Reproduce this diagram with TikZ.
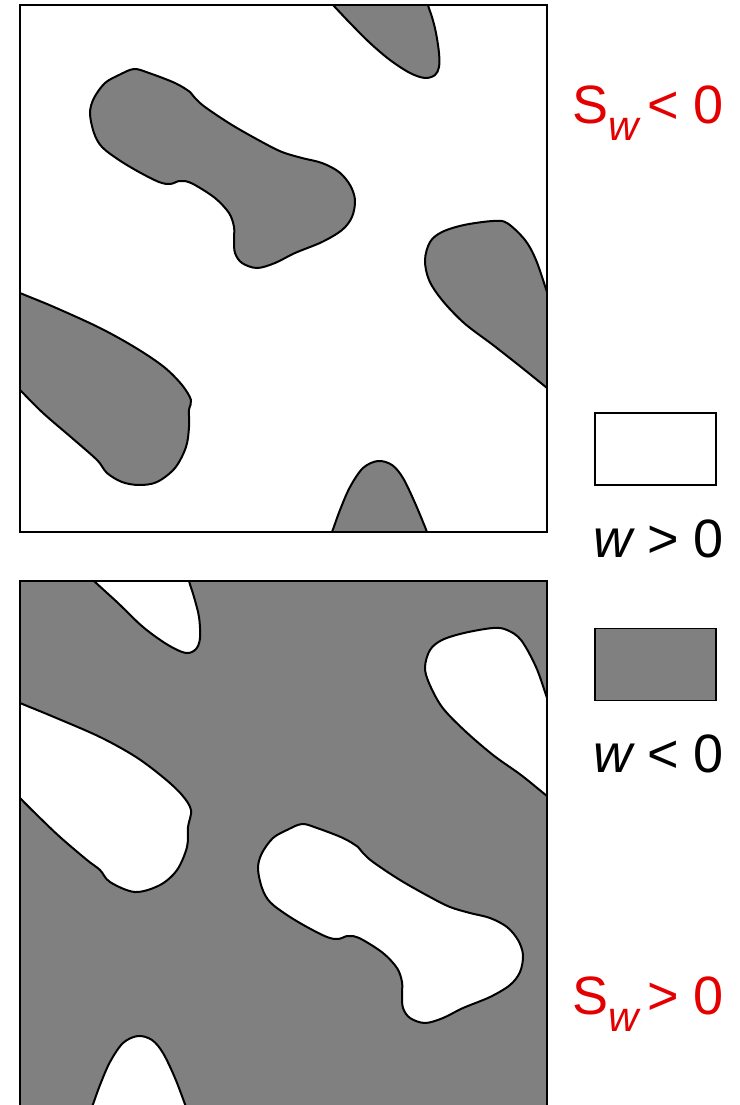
\documentclass[tikz,border=0pt]{standalone}
\usepackage{fontspec}
\setmainfont{Liberation Sans}
\usetikzlibrary{positioning}
\definecolor{signred}{RGB}{228,0,0}

\begin{document}
\begin{tikzpicture}[x=1pt,y=-1pt,
  blob/.style={line width=2pt},
  frame/.style={line width=2pt},
  keybox/.style={draw,line width=1.5pt,minimum width=121pt,minimum height=72pt,inner sep=0pt},
  lbl/.style={inner sep=0pt,anchor=base east,font=\fontsize{54}{60}\selectfont}]

\useasboundingbox (0,0) rectangle (739,1105);

% Upper panel: w<0 islands in w>0
\begin{scope}
\clip (20,5) rectangle (547,532);
% top
\filldraw[blob,fill=gray] plot[smooth cycle,tension=0.55] coordinates {
  (317,-12) (333,5) (350,23) (370,43) (390,60) (410,73) (425,78) (435,75)
  (439,67) (439,53) (436,33) (432,17) (428,5) (425,-12) (370,-40)};
% dumbbell
\filldraw[blob,fill=gray] plot[smooth cycle,tension=0.55] coordinates {
  (134,69) (149,73) (175,83) (190,92) (195,98) (205,107) (232,125)
  (262,142) (282,152) (302,158) (322,163) (339,172) (350,185) (355,200)
  (352,217) (342,230) (322,242) (295,253) (275,263) (257,268) (242,263)
  (235,253) (234,240) (234,227) (229,213) (215,198) (195,185) (185,181)
  (179,181) (170,184) (159,182) (139,172) (119,160) (102,147) (94,133)
  (90,113) (94,98) (105,83) (119,75)};
% right
\filldraw[blob,fill=gray] plot[smooth cycle,tension=0.55] coordinates {
  (493,221) (507,223) (525,240) (536,260) (547,292) (558,325) (590,365)
  (565,403) (547,388) (521,367) (493,345) (464,323) (442,300) (429,280)
  (425,260) (430,242) (442,232) (464,225)};
% left
\filldraw[blob,fill=gray] plot[smooth cycle,tension=0.55] coordinates {
  (0,284) (20,293) (54,307) (100,328) (136,348) (164,367) (182,385)
  (191,400) (189,410) (189,427) (186,447) (175,468) (157,482) (139,485)
  (122,482) (107,473) (97,460) (72,438) (43,413) (20,390) (2,372) (-20,330)};
% bottom
\filldraw[blob,fill=gray] plot[smooth cycle,tension=0.55] coordinates {
  (324,552) (332,532) (340,510) (350,487) (363,468) (378,461) (392,465)
  (403,478) (415,503) (427,532) (434,552) (380,575)};
\end{scope}
\draw[frame] (20,5) rectangle (547,532);

% Lower panel: w>0 islands in w<0
\fill[gray] (20,581) rectangle (547,1108);
\begin{scope}
\clip (20,581) rectangle (547,1108);
% top
\filldraw[blob,fill=white] plot[smooth cycle,tension=0.55] coordinates {
  (77,564) (94,581) (118,603) (143,627) (168,645) (186,653) (196,649)
  (200,638) (199,617) (194,597) (189,581) (185,564) (130,545)};
% right
\filldraw[blob,fill=white] plot[smooth cycle,tension=0.55] coordinates {
  (493,628) (507,630) (521,640) (536,667) (547,698) (558,730) (590,770)
  (565,810) (547,796) (521,775) (493,755) (464,730) (442,707) (429,683)
  (425,667) (430,650) (442,640) (464,633)};
% left
\filldraw[blob,fill=white] plot[smooth cycle,tension=0.55] coordinates {
  (0,694) (20,703) (54,717) (100,737) (136,757) (164,778) (182,795)
  (191,810) (188,827) (187,847) (177,870) (160,885) (135,892) (110,882)
  (100,870) (87,860) (60,837) (37,815) (20,798) (5,782) (-20,740)};
% dumbbell
\filldraw[blob,fill=white] plot[smooth cycle,tension=0.55] coordinates {
  (302,824) (317,828) (343,838) (358,847) (363,853) (373,862) (400,880)
  (430,897) (450,907) (470,913) (490,918) (507,927) (518,940) (523,955)
  (520,972) (510,985) (490,997) (463,1008) (443,1018) (425,1023)
  (410,1018) (403,1008) (402,995) (402,982) (397,968) (383,953)
  (363,940) (353,936) (347,936) (338,939) (327,937) (307,927) (287,915)
  (270,902) (262,888) (258,868) (262,853) (273,838) (287,830)};
% bottom
\filldraw[blob,fill=white] plot[smooth cycle,tension=0.55] coordinates {
  (84,1127) (92,1107) (100,1085) (110,1062) (123,1043) (138,1036)
  (152,1040) (163,1053) (175,1078) (186,1107) (193,1127) (140,1150)};
\end{scope}
\draw[frame] (20,581) rectangle (547,1108);

% Key
\node[keybox,fill=white] (keypos) at (655.5,449) {};
\node[keybox,fill=gray] (keyneg) at (655.5,664.5) {};

% Labels
\node[lbl,text=signred] (swneg) at (724,124)
  {S\raisebox{-17pt}{\fontsize{42}{42}\selectfont\itshape w}\hspace{8pt}< 0};
\node[lbl] (wpos) at (724,557) {\itshape w\upshape{} > 0};
\node[lbl] (wneg) at (724,772) {\itshape w\upshape{} < 0};
\node[lbl,text=signred] (swpos) at (724,1014)
  {S\raisebox{-17pt}{\fontsize{42}{42}\selectfont\itshape w}\hspace{8pt}> 0};

\end{tikzpicture}
\end{document}
